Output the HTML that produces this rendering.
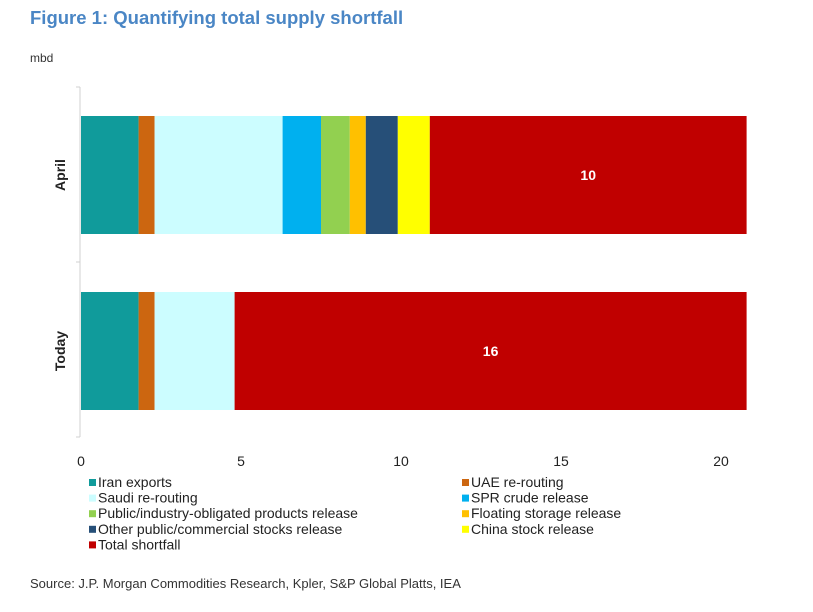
<!DOCTYPE html>
<html><head><meta charset="utf-8"><style>
body{margin:0;background:#fff;width:813px;height:607px;overflow:hidden;font-family:"Liberation Sans Narrow","Liberation Sans",sans-serif}
</style></head><body>
<svg id="chart" width="813" height="607" xmlns="http://www.w3.org/2000/svg">
<text x="30" y="24" font-family="Liberation Sans, sans-serif" font-weight="bold" font-size="18.5" fill="#4a86c5">Figure 1: Quantifying total supply shortfall</text>
<text x="30" y="62" font-family="Liberation Sans, sans-serif" font-size="12" fill="#333">mbd</text>
<g id="axes"></g><g id="bars"></g><g id="legend"></g>
<text x="30" y="588" font-family="Liberation Sans, sans-serif" font-size="13" fill="#333">Source: J.P. Morgan Commodities Research, Kpler, S&amp;P Global Platts, IEA</text>
</svg>
<script>
const categories=["April","Today"];
const seriesNames=["Iran exports","UAE re-routing","Saudi re-routing","SPR crude release","Public/industry-obligated products release","Floating storage release","Other public/commercial stocks release","China stock release","Total shortfall"];
const seriesColors=["#109b9b","#cc6610","#ccfdff","#00b0ef","#92d050","#ffc000","#264f78","#ffff00","#c00000"];
const aprilValues=[1.8,0.5,4.0,1.2,0.9,0.5,1.0,1.0,9.9];
const todayValues=[1.8,0.5,2.5,0,0,0,0,0,16.0];
const totalLabels=["10","16"];
const xTicks=[0,5,10,15,20];
const NS="http://www.w3.org/2000/svg";
const x=v=>81+v*32;
const rowTop=[116,292],barH=118;
function mk(t,a,p){const e=document.createElementNS(NS,t);for(const k in a)e.setAttribute(k,a[k]);p.appendChild(e);return e;}
const ax=document.getElementById('axes'),bg=document.getElementById('bars'),lg=document.getElementById('legend');
let l=mk('line',{x1:80,y1:87,x2:80,y2:437,stroke:'#d0d0d0'},ax);


[87,262,437].forEach(y=>{const t=mk('line',{x1:76,y1:y,x2:80,y2:y,stroke:'#d0d0d0'},ax);

});
xTicks.forEach(v=>{const t=mk('text',{x:x(v),y:466,'text-anchor':'middle','font-size':14,fill:'#222'},ax);t.textContent=v;

});
[aprilValues,todayValues].forEach((vals,ci)=>{
 const c=mk('text',{transform:`translate(65,${rowTop[ci]+barH/2}) rotate(-90)`,'text-anchor':'middle','font-size':14,'font-weight':'bold',fill:'#222'},ax);c.textContent=categories[ci];
 
 
 let acc=0;
 vals.forEach((v,si)=>{if(v<=0)return;
  const r=mk('rect',{x:x(acc),y:rowTop[ci],width:x(acc+v)-x(acc),height:barH,fill:seriesColors[si]},bg);
  
  
  if(si===8){const t=mk('text',{x:(x(acc)+x(acc+v))/2,y:rowTop[ci]+barH/2+5,'text-anchor':'middle','font-size':14,'font-weight':'bold',fill:'#fff'},bg);t.textContent=totalLabels[ci];
  
  }
  acc+=v;});
});
seriesNames.forEach((n,i)=>{const col=i%2,row=Math.floor(i/2);const sx=col?462:89,y=487+row*15.6;
 const g=mk('g',{},lg);
 
 
 mk('rect',{x:sx,y:y-8,width:7,height:7,fill:seriesColors[i]},g);
 const t=mk('text',{x:sx+9,y:y,'font-size':14,fill:'#222'},g);t.textContent=n;});
</script>
</body></html>
